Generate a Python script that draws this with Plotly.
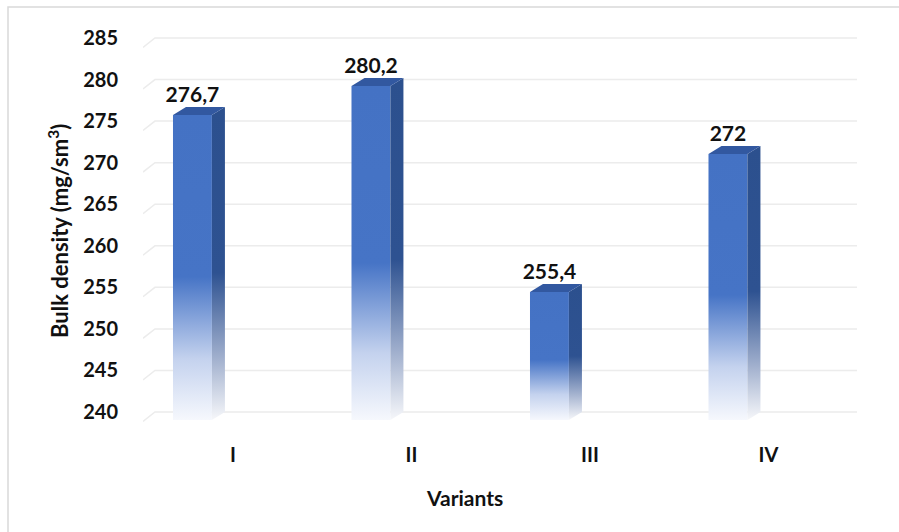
import plotly.graph_objects as go

# ---- data ----
categories = ["I", "II", "III", "IV"]
values = [276.7, 280.2, 255.4, 272]
y_ticks = [240, 245, 250, 255, 260, 265, 270, 275, 280, 285]
y_title = "Bulk density (mg/sm<sup>3</sup>)"
x_title = "Variants"

# ---- style / geometry (data units) ----
W, H = 899, 532
L, R, T, B = 143, 27, 36, 110
Y0 = 240
x_range = [-0.504, 3.580]
y_range = [238.8, 285.24]
front_l, front_r = -0.336, -0.118
ddx, ddy = 0.073, 0.963          # 3D depth offset
grid_x0, grid_x1 = -0.437, 3.496
slant_dx, slant_dy = 0.067, 1.13

FONT = "Lato"
front_scale = [[0, "rgb(246,248,253)"], [0.2, "rgb(196,210,238)"],
               [0.47, "rgb(70,116,198)"], [1, "rgb(68,114,196)"]]
side_scale = [[0, "rgb(246,247,250)"], [0.2, "rgb(160,175,205)"],
              [0.47, "rgb(46,82,145)"], [1, "rgb(44,80,142)"]]
top_color = "rgb(50,88,160)"
grid_color = "rgb(236,236,236)"

fig = go.Figure()

# gridlines (with slanted side-wall part)
gx, gy = [], []
for t in y_ticks:
    gx += [grid_x0 - slant_dx, grid_x0, grid_x1, None]
    gy += [t - slant_dy, t, t, None]
fig.add_trace(go.Scatter(x=gx, y=gy, mode="lines",
                         line=dict(color=grid_color, width=1.5),
                         hoverinfo="skip", showlegend=False))

for i, v in enumerate(values):
    c = i
    # front face
    fx = [c + front_l, c + front_r, c + front_r, c + front_l, c + front_l]
    fy = [Y0 - ddy, Y0 - ddy, v - ddy, v - ddy, Y0 - ddy]
    fig.add_trace(go.Scatter(x=fx, y=fy, mode="lines", fill="toself",
                             line=dict(width=0),
                             fillgradient=dict(type="vertical", colorscale=front_scale),
                             hoverinfo="skip", showlegend=False))
    # side face
    sx = [c + front_r, c + front_r, c + front_r + ddx, c + front_r + ddx, c + front_r]
    sy = [Y0 - ddy, v - ddy, v, Y0, Y0 - ddy]
    fig.add_trace(go.Scatter(x=sx, y=sy, mode="lines", fill="toself",
                             line=dict(width=0),
                             fillgradient=dict(type="vertical", colorscale=side_scale),
                             hoverinfo="skip", showlegend=False))
    # top face
    tx = [c + front_l, c + front_l + ddx, c + front_r + ddx, c + front_r, c + front_l]
    ty = [v - ddy, v, v, v - ddy, v - ddy]
    fig.add_trace(go.Scatter(x=tx, y=ty, mode="lines", fill="toself",
                             line=dict(width=0), fillcolor=top_color,
                             hoverinfo="skip", showlegend=False))

# data labels
labels = [f"{v:g}".replace(".", ",") for v in values]
fig.add_trace(go.Scatter(
    x=[i + (front_l + front_r) / 2 for i in range(len(values))],
    y=values, mode="text", text=labels, textposition="top center",
    textfont=dict(family=FONT, size=21, color="#111111", weight="bold"),
    hoverinfo="skip", showlegend=False, cliponaxis=False))

fig.update_layout(
    width=W, height=H,
    margin=dict(l=L, r=R, t=T, b=B),
    paper_bgcolor="white", plot_bgcolor="white",
    xaxis=dict(range=x_range, tickmode="array", tickvals=list(range(len(categories))),
               ticktext=categories, showgrid=False, zeroline=False, showline=False,
               ticks="", ticklabelstandoff=19,
               tickfont=dict(family=FONT, size=20, color="#111111", weight="bold")),
    yaxis=dict(range=y_range, tickmode="array", tickvals=y_ticks,
               showgrid=False, zeroline=False, showline=False,
               ticks="", ticklabelstandoff=24,
               tickfont=dict(family=FONT, size=20, color="#111111", weight="bold")),
    annotations=[
        dict(text=x_title, xref="paper", yref="paper",
             x=(464 - L) / (W - L - R), y=-(497 - (H - B)) / (H - T - B),
             showarrow=False, xanchor="center", yanchor="middle",
             font=dict(family=FONT, size=21, color="#111111", weight="bold")),
        dict(text=y_title, xref="paper", yref="paper", textangle=-90,
             x=(58 - L) / (W - L - R), y=((H - B) - 231) / (H - T - B),
             showarrow=False, xanchor="center", yanchor="middle",
             font=dict(family=FONT, size=22, color="#111111", weight="bold")),
    ],
    shapes=[dict(type="rect", xref="paper", yref="paper",
                 x0=(8 - L) / (W - L - R), x1=(920 - L) / (W - L - R),
                 y0=-(560 - (H - B)) / (H - T - B), y1=((H - B) - 7) / (H - T - B),
                 line=dict(color="rgb(217,217,217)", width=1.5), fillcolor="rgba(0,0,0,0)",
                 layer="below")],
)

fig.write_html("out.html")
